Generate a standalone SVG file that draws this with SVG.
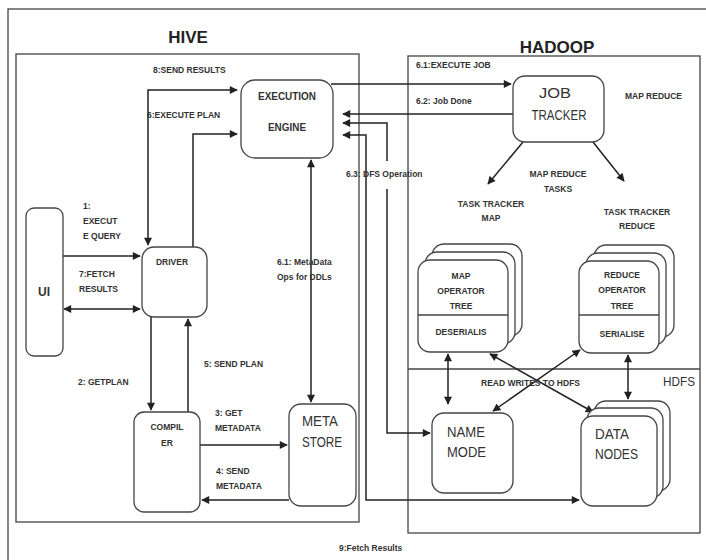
<svg xmlns="http://www.w3.org/2000/svg" width="706" height="560" viewBox="0 0 706 560">
<style>
.bg{fill:#fff}
.frame{fill:none;stroke:#444;stroke-width:1.3}
.box{fill:#fff;stroke:#444;stroke-width:1.3}
.ln{fill:none;stroke:#222;stroke-width:1.5}
.lbl{font-family:"Liberation Sans",Arial,sans-serif;font-weight:bold;font-size:8.5px;fill:#333}
.nm{font-family:"Liberation Sans",Arial,sans-serif;font-size:15px;fill:#333}
.ttl{font-family:"Liberation Sans",Arial,sans-serif;font-weight:bold;font-size:17px;fill:#222}
.c{text-anchor:middle}
</style>
<defs>
<marker id="ah" viewBox="0 0 10 10" refX="9" refY="5" markerWidth="9" markerHeight="8" markerUnits="userSpaceOnUse" orient="auto-start-reverse">
<path d="M0,0 L10,5 L0,10 z" fill="#222"/>
</marker>
</defs>
<rect class="bg" x="0" y="0" width="706" height="560"/>
<rect class="frame" x="8" y="9" width="720" height="580"/>
<g id="hive">
<rect class="frame" x="16" y="54" width="343" height="468"/>
<text class="ttl c" x="188" y="43">HIVE</text>
</g>
<g id="hadoop">
<rect class="frame" x="408" y="56" width="292" height="477"/>
<line class="frame" x1="408" y1="369" x2="700" y2="369"/>
<text class="ttl c" x="557" y="53">HADOOP</text>
<text class="nm" x="663" y="386" style="font-size:12px" textLength="32" lengthAdjust="spacingAndGlyphs">HDFS</text>
</g>
<g id="connectors">
<path class="ln" d="M237,90 H148 V245" marker-start="url(#ah)" marker-end="url(#ah)"/>
<path class="ln" d="M193,247 V134 H237" marker-end="url(#ah)"/>
<path class="ln" d="M63,256 H140" marker-end="url(#ah)"/>
<path class="ln" d="M64,309 H140" marker-start="url(#ah)" marker-end="url(#ah)"/>
<path class="ln" d="M151,317 V410" marker-end="url(#ah)"/>
<path class="ln" d="M188,412 V319" marker-end="url(#ah)"/>
<path class="ln" d="M200,445 H287" marker-end="url(#ah)"/>
<path class="ln" d="M289,500 H202" marker-end="url(#ah)"/>
<path class="ln" d="M311,160 V402" marker-start="url(#ah)" marker-end="url(#ah)"/>
<path class="ln" d="M331,84 H511" marker-end="url(#ah)"/>
<path class="ln" d="M513,114 H343" marker-end="url(#ah)"/>
<path class="ln" d="M343,123 H387 V161 M387,189 V433 H430" marker-start="url(#ah)" marker-end="url(#ah)"/>
<path class="ln" d="M343,135 H366 V500 H579" marker-start="url(#ah)" marker-end="url(#ah)"/>
<path class="ln" d="M523,142 L488,184" marker-end="url(#ah)"/>
<path class="ln" d="M593,142 L624,181" marker-end="url(#ah)"/>
<path class="ln" d="M448,354 V404" marker-start="url(#ah)" marker-end="url(#ah)"/>
<path class="ln" d="M628,355 V399" marker-start="url(#ah)" marker-end="url(#ah)"/>
<path class="ln" d="M493,411 L580,350" marker-start="url(#ah)" marker-end="url(#ah)"/>
<path class="ln" d="M490,354 L593,412" marker-start="url(#ah)" marker-end="url(#ah)"/>
</g>
<g id="labels">
<text class="lbl" x="153" y="73">8:SEND RESULTS</text>
<text class="lbl" x="147" y="118">6:EXECUTE PLAN</text>
<text class="lbl" x="83" y="209">1:</text>
<text class="lbl" x="83" y="224">EXECUT</text>
<text class="lbl" x="83" y="239">E QUERY</text>
<text class="lbl" x="79" y="277">7:FETCH</text>
<text class="lbl" x="79" y="292">RESULTS</text>
<text class="lbl" x="78" y="385">2: GETPLAN</text>
<text class="lbl" x="204" y="367">5: SEND PLAN</text>
<text class="lbl" x="215" y="416">3: GET</text>
<text class="lbl" x="215" y="431">METADATA</text>
<text class="lbl" x="216" y="474">4: SEND</text>
<text class="lbl" x="216" y="489">METADATA</text>
<text class="lbl" x="277" y="265">6.1: MetaData</text>
<text class="lbl" x="277" y="280">Ops for DDLs</text>
<text class="lbl" x="416" y="68">6.1:EXECUTE JOB</text>
<text class="lbl" x="416" y="104">6.2: Job Done</text>
<text class="lbl" x="346" y="177">6.3: DFS Operation</text>
<text class="lbl" x="625" y="99">MAP REDUCE</text>
<text class="lbl c" x="558" y="177">MAP REDUCE</text>
<text class="lbl c" x="558" y="192">TASKS</text>
<text class="lbl c" x="491" y="207">TASK TRACKER</text>
<text class="lbl c" x="491" y="221">MAP</text>
<text class="lbl c" x="637" y="215">TASK TRACKER</text>
<text class="lbl c" x="637" y="229">REDUCE</text>
<text class="lbl" x="481" y="386">READ WRITES TO HDFS</text>
<text class="lbl" x="339" y="551">9:Fetch Results</text>
</g>
<g id="ui">
<rect class="box" x="26" y="208" width="37" height="148" rx="8"/>
<text class="nm c" x="44" y="296" style="font-size:12px;font-weight:bold">UI</text>
</g>
<g id="execution-engine">
<rect class="box" x="241" y="80" width="92" height="78" rx="14"/>
<text class="lbl c" x="287" y="100" style="font-size:10px" textLength="58" lengthAdjust="spacingAndGlyphs">EXECUTION</text>
<text class="lbl c" x="287" y="131" style="font-size:10px" textLength="38" lengthAdjust="spacingAndGlyphs">ENGINE</text>
</g>
<g id="driver">
<rect class="box" x="142" y="247" width="65" height="70" rx="12"/>
<text class="lbl c" x="172" y="265">DRIVER</text>
</g>
<g id="compiler">
<rect class="box" x="134" y="412" width="66" height="100" rx="10"/>
<text class="lbl c" x="167" y="430">COMPIL</text>
<text class="lbl c" x="167" y="446">ER</text>
</g>
<g id="metastore">
<rect class="box" x="289" y="404" width="67" height="102" rx="12"/>
<text class="nm" x="302" y="426" textLength="36" lengthAdjust="spacingAndGlyphs">META</text>
<text class="nm" x="302" y="447" textLength="40" lengthAdjust="spacingAndGlyphs">STORE</text>
</g>
<g id="job-tracker">
<rect class="box" x="513" y="76" width="91" height="66" rx="12"/>
<text class="nm c" x="555" y="98" textLength="32" lengthAdjust="spacingAndGlyphs">JOB</text>
<text class="nm c" x="559" y="120" textLength="55" lengthAdjust="spacingAndGlyphs">TRACKER</text>
</g>
<g id="map-operator-tree">
<rect class="box" x="432" y="244" width="90" height="92" rx="12"/>
<rect class="box" x="425" y="252" width="90" height="92" rx="12"/>
<rect class="box" x="418" y="260" width="90" height="92" rx="12"/>
<line class="frame" x1="418" y1="315" x2="508" y2="315"/>
<text class="lbl c" x="461" y="279">MAP</text>
<text class="lbl c" x="461" y="294">OPERATOR</text>
<text class="lbl c" x="461" y="309">TREE</text>
<text class="lbl c" x="461" y="335">DESERIALIS</text>
</g>
<g id="reduce-operator-tree">
<rect class="box" x="594" y="245" width="80" height="92" rx="12"/>
<rect class="box" x="586" y="253" width="80" height="92" rx="12"/>
<rect class="box" x="579" y="261" width="80" height="92" rx="12"/>
<line class="frame" x1="579" y1="315" x2="659" y2="315"/>
<text class="lbl c" x="622" y="278">REDUCE</text>
<text class="lbl c" x="622" y="293">OPERATOR</text>
<text class="lbl c" x="622" y="309">TREE</text>
<text class="lbl c" x="622" y="337">SERIALISE</text>
</g>
<g id="name-node">
<rect class="box" x="432" y="413" width="81" height="80" rx="12"/>
<text class="nm" x="447" y="437" textLength="38" lengthAdjust="spacingAndGlyphs">NAME</text>
<text class="nm" x="447" y="457" textLength="39" lengthAdjust="spacingAndGlyphs">MODE</text>
</g>
<g id="data-nodes">
<rect class="box" x="594" y="401" width="76" height="90" rx="12"/>
<rect class="box" x="587" y="408" width="76" height="90" rx="12"/>
<rect class="box" x="581" y="416" width="76" height="90" rx="12"/>
<text class="nm" x="595" y="439" textLength="34" lengthAdjust="spacingAndGlyphs">DATA</text>
<text class="nm" x="595" y="459" textLength="43" lengthAdjust="spacingAndGlyphs">NODES</text>
</g>
</svg>
